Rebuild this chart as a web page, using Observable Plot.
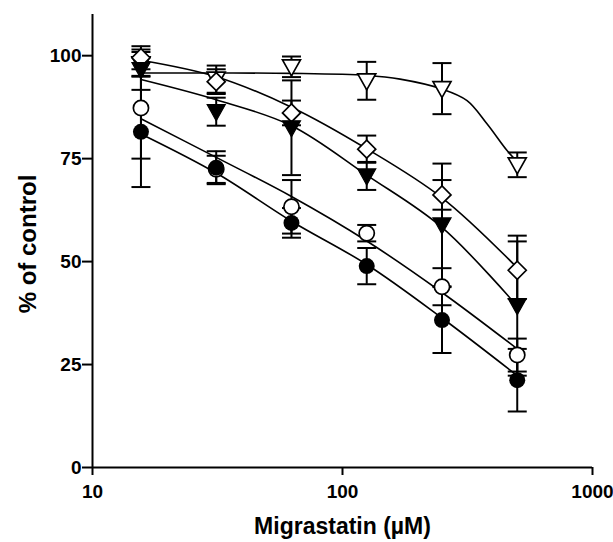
<!DOCTYPE html>
<html><head><meta charset="utf-8">
<script src="https://cdn.jsdelivr.net/npm/d3@7"></script>
<script src="https://cdn.jsdelivr.net/npm/@observablehq/plot@0.6"></script>
<style>html,body{margin:0;padding:0;background:#fff;}</style>
</head><body><div id="chart"></div>
<script>
// Concentrations (µM)
const conc = [15.625, 31.25, 62.5, 125, 250, 500];
const xTicks = [10, 100, 1000];
const yTicks = [0, 25, 50, 75, 100];

// Means and error (± SD) per series
const filledCircleY = [81.5, 72.8, 59.4, 48.9, 35.8, 21.2];
const filledCircleE = [13.4, 4.0, 3.6, 4.4, 8.0, 7.6];
const openCircleY = [87.3, 72.4, 63.3, 56.9, 43.9, 27.3];
const openCircleE = [12.3, 3.3, 6.5, 2.0, 4.5, 4.0];
const filledTriY = [96.6, 86.4, 82.5, 70.8, 58.9, 39.3];
const filledTriE = [4.9, 3.4, 11.5, 3.4, 14.9, 17.0];
const openDiamondY = [99.5, 93.7, 86.1, 77.3, 66.2, 47.9];
const openDiamondE = [2.8, 3.0, 3.0, 3.3, 3.6, 7.0];
const openTriY = [98.0, 94.3, 97.3, 93.9, 92.0, 73.5];
const openTriE = [2.9, 3.3, 2.5, 4.6, 6.2, 3.0];

// Fitted curves
const fitFilledCircle = [81.0, 71.5, 59.8, 49.3, 36.3, 22.3];
const fitOpenCircle = [84.7, 75.3, 65.8, 55.0, 42.5, 28.8];
const fitFilledTri = [94.2, 89.3, 83.0, 71.0, 58.3, 39.2];
const fitOpenDiamond = [98.9, 94.9, 87.5, 77.4, 65.5, 48.5];
const fitOpenTriX = [15.625, 31.25, 62.5, 125, 170, 250, 315, 379, 456, 500];
const fitOpenTriY = [95.8, 95.8, 95.7, 95.2, 94.3, 91.9, 89.1, 83.4, 76.9, 74.3];

const series = [
  {name: "filledCircle", y: filledCircleY, e: filledCircleE, fit: fitFilledCircle},
  {name: "openCircle", y: openCircleY, e: openCircleE, fit: fitOpenCircle},
  {name: "filledTri", y: filledTriY, e: filledTriE, fit: fitFilledTri},
  {name: "openDiamond", y: openDiamondY, e: openDiamondE, fit: fitOpenDiamond},
  {name: "openTri", y: openTriY, e: openTriE, fit: null}
];

const points = series.flatMap(s => conc.map((c, i) => ({series: s.name, x: c, y: s.y[i], e: s.e[i]})));
const curves = series.flatMap(s => s.fit ? conc.map((c, i) => ({series: s.name, x: c, y: s.fit[i]})) : [])
  .concat(fitOpenTriX.map((c, i) => ({series: "openTri", x: c, y: fitOpenTriY[i]})));

const downTri = {draw(ctx) { ctx.moveTo(-9, -7); ctx.lineTo(9, -7); ctx.lineTo(0, 9); ctx.closePath(); }};
const diamond = {draw(ctx) { ctx.moveTo(0, -9); ctx.lineTo(9, 0); ctx.lineTo(0, 9); ctx.lineTo(-9, 0); ctx.closePath(); }};
const cap = {draw(ctx) { ctx.moveTo(-9.5, 0); ctx.lineTo(9.5, 0); }};

const pick = name => points.filter(d => d.series === name);

const chart = Plot.plot({
  width: 613,
  height: 542,
  marginLeft: 92,
  marginRight: 21,
  marginTop: 14,
  marginBottom: 75,
  style: {fontFamily: "'Liberation Sans', Arial, sans-serif", fontWeight: "bold", background: "#fff", color: "#000"},
  x: {type: "log", domain: [10, 1000]},
  y: {domain: [0, 110]},
  marks: [
    Plot.axisY({ticks: yTicks, tickSize: 10, tickPadding: 1, fontSize: 19, strokeWidth: 2, label: null}),
    Plot.axisX({ticks: xTicks, tickFormat: d => String(d), tickSize: 8, tickPadding: 8.5, fontSize: 19, strokeWidth: 2, label: null}),
    Plot.ruleX([10], {strokeWidth: 2}),
    Plot.ruleY([0], {strokeWidth: 2}),
    Plot.line(curves, {x: "x", y: "y", z: "series", curve: "catmull-rom", stroke: "black", strokeWidth: 1.6}),
    Plot.ruleX(points, {x: "x", y1: d => d.y - d.e, y2: d => d.y + d.e, stroke: "black", strokeWidth: 2}),
    Plot.dot(points, {x: "x", y: d => d.y - d.e, symbol: cap, fill: "none", stroke: "black", strokeWidth: 2}),
    Plot.dot(points, {x: "x", y: d => d.y + d.e, symbol: cap, fill: "none", stroke: "black", strokeWidth: 2}),
    Plot.dot(pick("openTri"), {x: "x", y: "y", symbol: downTri, fill: "white", stroke: "black", strokeWidth: 1.7}),
    Plot.dot(pick("openDiamond"), {x: "x", y: "y", symbol: diamond, fill: "white", stroke: "black", strokeWidth: 1.7}),
    Plot.dot(pick("filledTri"), {x: "x", y: "y", symbol: downTri, fill: "black", stroke: "black", strokeWidth: 1.2}),
    Plot.dot(pick("openCircle"), {x: "x", y: "y", symbol: "circle", r: 7.6, fill: "white", stroke: "black", strokeWidth: 1.7}),
    Plot.dot(pick("filledCircle"), {x: "x", y: "y", symbol: "circle", r: 8, fill: "black", stroke: "none"}),
    Plot.text(["Migrastatin (µM)"], {frameAnchor: "bottom", textAnchor: "middle", lineAnchor: "bottom", dy: 66, fontSize: 23, fontWeight: "bold", fill: "black"}),
    Plot.text(["% of control"], {frameAnchor: "left", textAnchor: "middle", lineAnchor: "bottom", rotate: -90, dx: -57, dy: 3, fontSize: 24, fontWeight: "bold", fill: "black"})
  ]
});
document.getElementById("chart").appendChild(chart);
</script>
</body></html>
